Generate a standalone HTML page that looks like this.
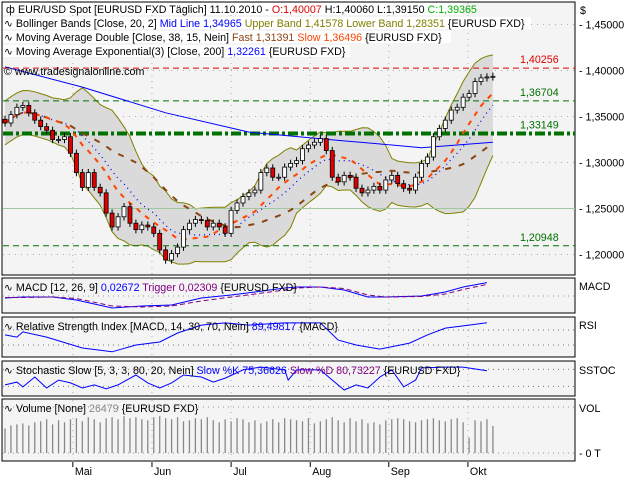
<!DOCTYPE html>
<html><head><meta charset="utf-8"><style>
body{margin:0;background:#fff;}
svg{display:block;font-family:"Liberation Sans",sans-serif;font-size:10.7px;}
</style></head><body>
<svg id="c" width="640" height="480" xmlns="http://www.w3.org/2000/svg">
<rect x="0" y="0" width="640" height="480" fill="#fff"/>
<rect x="2" y="2" width="573" height="273" fill="#f4f4f4" stroke="#000"/>
<rect x="2" y="278" width="573" height="35" fill="#f4f4f4" stroke="#000"/>
<rect x="2" y="317" width="573" height="40" fill="#f4f4f4" stroke="#000"/>
<rect x="2" y="361" width="573" height="35" fill="#f4f4f4" stroke="#000"/>
<rect x="2" y="399" width="573" height="62" fill="#f4f4f4" stroke="#000"/>
<g id="grid"></g><g id="marks"></g>
<g id="txt" font-size="10.7">
<text x="580" y="14">$</text>
<text x="579" y="290">MACD</text>
<text x="579" y="329">RSI</text>
<text x="579" y="374">SSTOC</text>
<text x="579" y="412">VOL</text>
<text x="579" y="457">- 0 T</text>
</g>
<g id="legend" font-size="10.7">
<rect x="3" y="3" width="460" height="12" fill="#fff"/>
<text x="6" y="13">ф</text>
<text x="18" y="13">EUR/USD Spot [EURUSD FXD  Täglich] 11.10.2010 - <tspan fill="#e00000">O:1,40007</tspan> H:1,40060 L:1,39150 <tspan fill="#00b000">C:1,39365</tspan></text>
<rect x="3" y="17" width="528" height="12" fill="#fff"/>
<text x="4" y="27">∿ Bollinger Bands [Close, 20, 2] <tspan fill="#0000ff">Mid Line 1,34965</tspan> <tspan fill="#808000">Upper Band 1,41578 Lower Band 1,28351</tspan> {EURUSD FXD}</text>
<rect x="3" y="31" width="448" height="12" fill="#fff"/>
<text x="4" y="41">∿ Moving Average Double [Close, 38, 15, Nein] <tspan fill="#8b4513">Fast 1,31391</tspan> <tspan fill="#ff4500">Slow 1,36496</tspan> {EURUSD FXD}</text>
<rect x="3" y="45" width="347" height="12" fill="#fff"/>
<text x="4" y="55">∿ Moving Average Exponential(3) [Close, 200] <tspan fill="#0000ff">1,32261</tspan> {EURUSD FXD}</text>
<text x="4" y="75">© www.tradesignalonline.com</text>
<text x="4" y="291">∿ MACD [12, 26, 9] <tspan fill="#0000ff">0,02672</tspan> <tspan fill="#800080">Trigger 0,02309</tspan> {EURUSD FXD}</text>
<text x="4" y="330">∿ Relative Strength Index [MACD, 14, 30, 70, Nein] <tspan fill="#0000ff">89,49817</tspan> {MACD}</text>
<text x="4" y="374">∿ Stochastic Slow [5, 3, 3, 80, 20, Nein] <tspan fill="#0000ff">Slow %K 75,36626</tspan> <tspan fill="#800080">Slow %D 80,73227</tspan> {EURUSD FXD}</text>
<text x="4" y="412">∿ Volume [None] <tspan fill="#888">26479</tspan> {EURUSD FXD}</text>
</g>
</svg>
<script>
const closes=[1.343,1.352,1.360,1.362,1.354,1.346,1.339,1.335,1.325,1.325,
1.328,1.310,1.289,1.273,1.289,1.273,1.267,1.245,1.230,1.241,
1.252,1.234,1.227,1.232,1.230,1.223,1.205,1.194,1.201,1.208,
1.227,1.234,1.238,1.237,1.230,1.234,1.230,1.223,1.248,1.256,
1.263,1.267,1.270,1.289,1.294,1.284,1.284,1.295,1.299,1.302,
1.315,1.319,1.322,1.326,1.313,1.284,1.279,1.286,1.284,1.272,
1.267,1.270,1.274,1.270,1.281,1.286,1.277,1.272,1.270,1.284,
1.299,1.306,1.328,1.337,1.346,1.357,1.360,1.371,1.375,1.388,
1.392,1.393,1.3937];
const emaIdx=[0,13,27,41,56,65,70,76,82];
const emaVals=[1.404,1.382,1.354,1.333,1.324,1.319,1.316,1.319,1.322];
const hLevels=[1.40256,1.36704,1.33149,1.20948];
const hLabels=["1,40256","1,36704","1,33149","1,20948"];
const yTicks=[1.45,1.40,1.35,1.30,1.25,1.20];
const yTickLabels=["1,45000","1,40000","1,35000","1,30000","1,25000","1,20000"];
const months=["Mai","Jun","Jul","Aug","Sep","Okt"];
const monthIdx=[11.4,24.7,38,51.3,64.5,77.8];
const macdIdx=[0,3,8,12,18,23,28,33,38,42,47,49,53,57,61,64,70,74,77,81];
const macdVals=[-0.004,-0.002,-0.002,-0.008,-0.024,-0.020,-0.018,-0.004,0.002,0.008,0.016,0.018,0.018,0.012,-0.002,-0.002,0.0,0.008,0.018,0.0267];
const trigVals=[-0.003,-0.003,-0.002,-0.005,-0.020,-0.022,-0.020,-0.010,-0.002,0.004,0.012,0.016,0.018,0.015,0.002,-0.002,-0.001,0.004,0.013,0.0231];
const rsiIdx=[0,2,3,7,13,18,22,26,29,33,37,41,47,53,56,59,63,68,71,74,78,81];
const rsiVals=[57,51,65,51,22,12,30,38,62,83,89,83,89,89,43,30,19,35,57,75,83,89.5];
const stIdx=[0,2,3,5,7,9,11,13,15,17,19,22,24,26,28,30,33,35,37,40,43,47,47.6,49,53,55,57,59,61,63,65,67,69,70,74,77,81];
const stK=[25,35,18,53,14,42,32,14,25,11,25,60,32,14,32,60,53,35,49,78,88,78,42,78,78,42,7,25,14,53,78,18,42,85,88,88,75];
const vols=[24000,27000,28000,29000,27000,30000,31000,33000,28000,32000,
30000,33000,34000,31000,35000,33000,30000,34000,35000,33000,
36000,34000,35000,33000,32000,35000,36000,34000,33000,35000,
31000,32000,34000,33000,35000,32000,30000,33000,31000,34000,
33000,30000,32000,29000,31000,33000,30000,34000,33000,32000,
31000,34000,29000,31000,33000,35000,32000,30000,34000,31000,
33000,29000,30000,28000,32000,33000,34000,33000,31000,30000,
32000,33000,34000,32000,31000,33000,34000,30000,15000,32000,
31000,33000,26479];

const NS="http://www.w3.org/2000/svg";
const marks=document.getElementById('marks'), grid=document.getElementById('grid'), txt=document.getElementById('txt');
const xOf=i=>5+i*5.95;
const yP=v=>24.5+(1.45-v)*920;
const yMacd=v=>296-v*500;
const yRsi=v=>356.25-v*0.375;
const ySt=v=>392-v*0.283;
const yVol=v=>453-v/978;
function mk(tag,attrs,parent){const e=document.createElementNS(NS,tag);for(const k in attrs)e.setAttribute(k,attrs[k]);(parent||marks).appendChild(e);return e;}
function poly(xs,ys,attrs){return mk('polyline',Object.assign({points:xs.map((x,i)=>x.toFixed(1)+','+ys[i].toFixed(1)).join(' '),fill:'none'},attrs));}

yTicks.forEach((t,i)=>{
  const l=mk('line',{x1:3,x2:575,y1:yP(t),y2:yP(t),stroke:'#aaa','stroke-dasharray':'1,5'},grid);
  
  
  const tk=mk('text',{x:579,y:yP(t)+4},txt);
  tk.textContent='- '+yTickLabels[i];
  
  
});
[[3,275],[279,313],[318,357],[362,396],[400,461]].forEach(r=>{
  monthIdx.forEach(m=>{
    const l=mk('line',{x1:xOf(m),x2:xOf(m),y1:r[0],y2:r[1],stroke:'#aaa','stroke-dasharray':'1,5'},grid);
    
    
  });
});
[[yMacd(0),'#999'],[yRsi(70),'#777'],[yRsi(30),'#777'],[ySt(80),'#777'],[ySt(20),'#777'],[407,'#999'],[453,'#999']].forEach(a=>{
  const l=mk('line',{x1:3,x2:575,y1:a[0],y2:a[0],stroke:a[1],'stroke-dasharray':'1,4'},grid);
  
  
});
monthIdx.forEach((m,i)=>{
  const l=mk('line',{x1:xOf(m),x2:xOf(m),y1:462,y2:467,stroke:'#000'},txt);
  
  
  const t=mk('text',{x:xOf(m)+2,y:475},txt);
  t.textContent=months[i];
  
  
});

function sma(p){return closes.map((c,i)=>{const s=closes.slice(Math.max(0,i-p+1),i+1);return s.reduce((a,b)=>a+b,0)/s.length;});}
const mid=sma(12), fast=sma(9), slow=sma(23);
const sd=closes.map((c,i)=>{const s=closes.slice(Math.max(0,i-11),i+1);const m=mid[i];return Math.sqrt(s.reduce((a,b)=>a+(b-m)*(b-m),0)/s.length);});
const up=mid.map((m,i)=>m+2*Math.max(sd[i],0.012)), lo=mid.map((m,i)=>m-2*Math.max(sd[i],0.012));
const xs=closes.map((c,i)=>xOf(i));
const band=mk('polygon',{points:xs.map((x,i)=>x+','+yP(up[i])).concat(xs.slice().reverse().map((x,j)=>x+','+yP(lo[closes.length-1-j]))).join(' '),fill:'#dadada',stroke:'none'});


const bu=poly(xs,up.map(yP),{stroke:'#808000','stroke-width':1});


const bl=poly(xs,lo.map(yP),{stroke:'#808000','stroke-width':1});



const hCols=['#e00000','#007000','#007000','#007000'];
hLevels.forEach((v,i)=>{
  const l=mk('line',{x1:3,x2:575,y1:yP(v),y2:yP(v),stroke:hCols[i],'stroke-width':i==2?4:1,'stroke-dasharray':i==2?'10,3,3,3':'6,4'});
  
  
  const t=mk('text',{x:520,y:yP(v)-5,fill:i==0?'#e00000':'#007000'});
  t.textContent=hLabels[i];
  
  
});
const l125=mk('line',{x1:3,x2:575,y1:yP(1.25),y2:yP(1.25),stroke:'#a0c8a0'});



const ema=poly(emaIdx.map(xOf),emaVals.map(yP),{stroke:'#0000ff','stroke-width':1});


const ml=poly(xs,mid.map(yP),{stroke:'#0000ff','stroke-dasharray':'1,4','stroke-width':1.3});


const sl=poly(xs,slow.map(yP),{stroke:'#8b4513','stroke-width':2,'stroke-dasharray':'6,8'});


const fl=poly(xs,fast.map(yP),{stroke:'#ff4500','stroke-width':2,'stroke-dasharray':'5,6'});



closes.forEach((c,i)=>{
  const o=i?closes[i-1]:c+0.004;
  const hi=Math.max(o,c)+0.004, lw=Math.min(o,c)-0.004, x=xOf(i);
  const w=mk('line',{x1:x,x2:x,y1:yP(hi),y2:yP(lw),stroke:'#000'});
  
  
  const b=mk('rect',{x:x-2,y:yP(Math.max(o,c)),width:4,height:Math.max(1,Math.abs(yP(o)-yP(c))),fill:c>=o?'#fff':'#e00000',stroke:'#000','stroke-width':0.8});
  
  
});

const mL=poly(macdIdx.map(xOf),macdVals.map(yMacd),{stroke:'#0000ff'});


const tL=poly(macdIdx.map(xOf),trigVals.map(yMacd),{stroke:'#800080','stroke-dasharray':'5,3'});


const rL=poly(rsiIdx.map(xOf),rsiVals.map(yRsi),{stroke:'#0000ff'});


const sK=poly(stIdx.map(xOf),stK.map(ySt),{stroke:'#0000ff'});


vols.forEach((v,i)=>{
  const b=mk('line',{x1:xOf(i),x2:xOf(i),y1:453,y2:yVol(v),stroke:'#888','stroke-width':1.3});
  
  
});
document.getElementById('c').appendChild(document.getElementById('legend'));
</script>
</body></html>
